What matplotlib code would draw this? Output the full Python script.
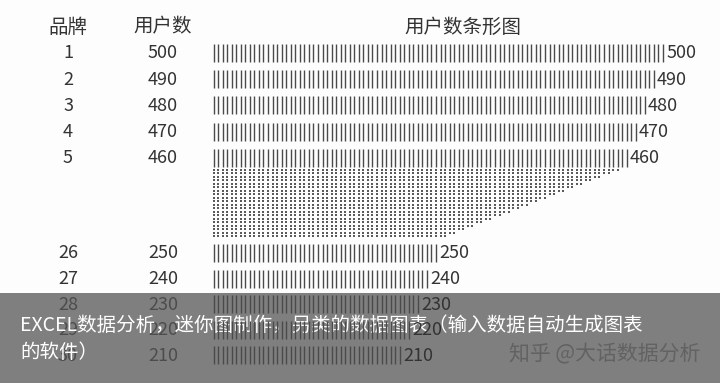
import numpy as np
import matplotlib
matplotlib.use("Agg")
import matplotlib.pyplot as plt
from matplotlib.patches import Rectangle

plt.rcParams['font.family'] = ['Noto Sans CJK SC', 'DejaVu Sans']

# table data (rows 6-25 are shown squeezed in the screenshot)
brands = list(range(1, 31))
users = [500, 490, 480, 470, 460, 450, 440, 430, 420, 410,
         400, 390, 380, 370, 360, 350, 340, 330, 320, 310,
         300, 290, 280, 270, 260, 250, 240, 230, 220, 210]
shown = [1, 2, 3, 4, 5, 26, 27, 28, 29, 30]
headers = ["品牌", "用户数", "用户数条形图"]
caption = ["EXCEL数据分析，迷你图制作，另类的数据图表（输入数据自动生成图表", "的软件）"]
watermark = "知乎 @大话数据分析"
step = 5  # one "|" per 5 users, like REPT("|", n/5)

W, H = 720, 383
fig = plt.figure(figsize=(W / 100, H / 100), dpi=100, facecolor="#fdfdfd")

# pixel-space axes for the table layout
ax = fig.add_axes([0, 0, 1, 1])
ax.set_xlim(0, W)
ax.set_ylim(H, 0)
ax.axis("off")

# bar axes: x in user units
bar_x0, px_per_user = 213, 0.908
axb = fig.add_axes([bar_x0 / W, 0, (W - bar_x0) / W, 1])
axb.set_xlim(0, (W - bar_x0) / px_per_user)
axb.set_ylim(H, 0)
axb.axis("off")
axb.patch.set_alpha(0)


def row_y(b):
    # row centres in pixels
    if b <= 5:
        return 53 + (b - 1) * 26.2
    if b >= 26:
        return 253 + (b - 26) * 25.6
    return 169.5 + (b - 6) * 3.5


ink = "#333333"
bar_col = "#4a4a4a"

ax.text(68, 27, headers[0], ha="center", va="center", fontsize=14, color=ink)
ax.text(163, 27, headers[1], ha="center", va="center", fontsize=14, color=ink)
ax.text(463, 27, headers[2], ha="center", va="center", fontsize=14, color=ink)

for b, u in zip(brands, users):
    y = row_y(b)
    n = u // step
    xs = np.arange(n) * step + 0.6
    if b in shown:
        axb.vlines(xs, y - 9, y + 9, color=bar_col, lw=1.0)
        axb.text(xs[-1] + 3.5, y + 0.5, str(u), ha="left", va="center",
                 fontsize=13, color=ink)
        ax.text(68, y + 0.5, str(b), ha="center", va="center", fontsize=13, color=ink)
        ax.text(163, y + 0.5, str(u), ha="center", va="center", fontsize=13, color=ink)
    else:
        axb.vlines(xs, y - 1.0, y + 1.0, color="#3a3a3a", lw=1.2)

# grey caption band over the bottom rows
ax.add_patch(Rectangle((0, 293), W, H - 293, facecolor="#555555", alpha=0.75,
                       edgecolor="none", zorder=5))
ax.text(20, 325, caption[0], ha="left", va="center", fontsize=14,
        color="white", zorder=6)
ax.text(20, 353, caption[1], ha="left", va="center", fontsize=14,
        color="white", zorder=6)
ax.text(700, 354, watermark, ha="right", va="center", fontsize=15,
        color="#626262", zorder=6)

fig.savefig("out.png", dpi=100, facecolor=fig.get_facecolor())
